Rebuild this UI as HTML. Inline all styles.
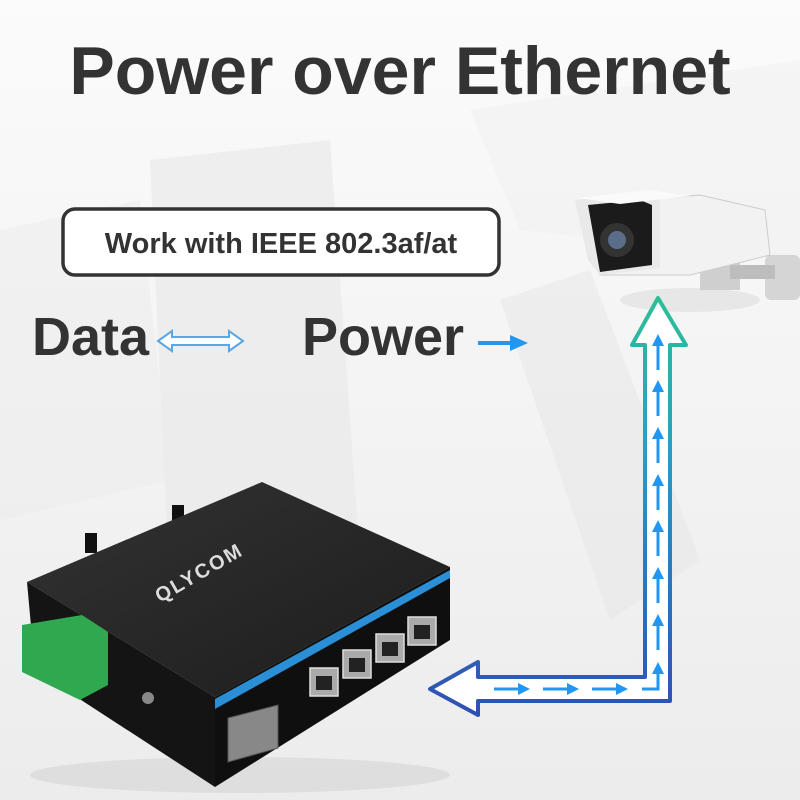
<!DOCTYPE html>
<html><head><meta charset="utf-8"><style>
html,body{margin:0;padding:0;width:800px;height:800px;overflow:hidden;background:#f3f3f3;}
svg{display:block}
text{font-family:"Liberation Sans",sans-serif;font-weight:bold;}
</style></head><body>
<svg width="800" height="800" viewBox="0 0 800 800" xmlns="http://www.w3.org/2000/svg">
<defs>
<linearGradient id="bg" x1="0" y1="0" x2="0" y2="1"><stop offset="0" stop-color="#fbfbfb"/><stop offset="1" stop-color="#ececec"/></linearGradient>
<linearGradient id="pg" x1="0" y1="0" x2="0" y2="1"><stop offset="0" stop-color="#2bbf98"/><stop offset="0.35" stop-color="#2b9fc0"/><stop offset="1" stop-color="#2f4fb3"/></linearGradient>
<linearGradient id="top" x1="0" y1="0" x2="1" y2="1"><stop offset="0" stop-color="#333"/><stop offset="1" stop-color="#1c1c1c"/></linearGradient>
<marker id="ah" viewBox="0 0 10 10" refX="5" refY="5" markerWidth="4" markerHeight="4" orient="auto"><path d="M0,0 L10,5 L0,10 z" fill="#2196f3"/></marker>
</defs>
<rect width="800" height="800" fill="url(#bg)"/>
<polygon points="150,160 330,140 360,560 170,600" fill="#e8e8e8" opacity="0.6"/>
<polygon points="0,230 140,200 170,480 0,520" fill="#ebebeb" opacity="0.5"/>
<polygon points="500,300 590,270 700,560 610,620" fill="#e6e6e6" opacity="0.5"/>
<polygon points="470,110 800,60 800,260 520,230" fill="#efefef" opacity="0.5"/>
<text x="400" y="94" text-anchor="middle" font-size="68" fill="#333">Power over Ethernet</text>
<rect x="63" y="209" width="436" height="66" rx="12" fill="#fff" stroke="#333" stroke-width="3.5"/>
<text x="281" y="253" text-anchor="middle" font-size="29" fill="#333">Work with IEEE 802.3af/at</text>
<text x="32" y="355" font-size="54" fill="#333">Data</text>
<path d="M158,341 L172,331 L172,337 L229,337 L229,331 L243,341 L229,351 L229,345 L172,345 L172,351 Z" fill="#fff" stroke="#5aa6e6" stroke-width="2"/>
<text x="302" y="355" font-size="54" fill="#333">Power</text>
<line x1="478" y1="343" x2="512" y2="343" stroke="#2196f3" stroke-width="4"/>
<polygon points="510,335 528,343 510,351" fill="#2196f3"/>
<g>
<ellipse cx="690" cy="300" rx="70" ry="12" fill="#ddd" opacity="0.6"/>
<rect x="700" y="262" width="40" height="28" fill="#cfcfcf"/>
<rect x="765" y="255" width="35" height="45" rx="6" fill="#d5d5d5"/>
<rect x="730" y="265" width="45" height="14" fill="#bdbdbd"/>
<polygon points="590,205 700,195 765,210 770,255 690,275 600,275" fill="#f2f2f2" stroke="#ccc"/>
<polygon points="575,200 640,192 660,198 660,268 600,275 588,260" fill="#e9e9e9"/>
<polygon points="588,205 640,200 652,205 652,265 600,272" fill="#1b1b1b"/>
<circle cx="617" cy="240" r="17" fill="#333"/>
<circle cx="617" cy="240" r="9" fill="#5a6e8a"/>
<polygon points="578,198 650,190 690,196 620,204" fill="#fafafa"/>
</g>
<path d="M430,689 L478,662 L478,677 L645,677 L645,345 L632,345 L658,298 L686,345 L670,345 L670,701 L478,701 L478,715 Z" fill="#fff" stroke="url(#pg)" stroke-width="4" stroke-linejoin="round"/>
<g stroke="#2196f3" stroke-width="3" fill="none">
<line x1="658" y1="370" x2="658" y2="340" marker-end="url(#ah)"/>
<line x1="658" y1="416" x2="658" y2="386" marker-end="url(#ah)"/>
<line x1="658" y1="463" x2="658" y2="433" marker-end="url(#ah)"/>
<line x1="658" y1="510" x2="658" y2="480" marker-end="url(#ah)"/>
<line x1="658" y1="556" x2="658" y2="526" marker-end="url(#ah)"/>
<line x1="658" y1="603" x2="658" y2="573" marker-end="url(#ah)"/>
<line x1="658" y1="650" x2="658" y2="620" marker-end="url(#ah)"/>
<polyline points="642,689 658,689 658,668" marker-end="url(#ah)"/>
<line x1="494" y1="689" x2="524" y2="689" marker-end="url(#ah)"/>
<line x1="543" y1="689" x2="573" y2="689" marker-end="url(#ah)"/>
<line x1="592" y1="689" x2="622" y2="689" marker-end="url(#ah)"/>
</g>
<ellipse cx="240" cy="775" rx="210" ry="18" fill="#d6d6d6" opacity="0.6"/>
<rect x="85" y="533" width="12" height="20" fill="#111"/>
<rect x="172" y="505" width="12" height="20" fill="#111"/>
<polygon points="27,582 262,482 450,567 215,697" fill="url(#top)"/>
<polygon points="27,582 215,697 215,787 35,670" fill="#141414"/>
<polygon points="215,697 450,567 450,640 215,787" fill="#0f0f0f"/>
<polygon points="215,699 450,570 450,578 215,709" fill="#2a8fd6"/>
<g fill="#aaa" stroke="#ddd" stroke-width="1.5">
<rect x="310" y="668" width="28" height="28"/>
<rect x="343" y="650" width="28" height="28"/>
<rect x="376" y="634" width="28" height="28"/>
<rect x="408" y="617" width="28" height="28"/>
</g>
<g fill="#222"><rect x="316" y="676" width="16" height="14"/><rect x="349" y="658" width="16" height="14"/><rect x="382" y="642" width="16" height="14"/><rect x="414" y="625" width="16" height="14"/></g>
<polygon points="228,718 278,705 278,748 228,762" fill="#888" stroke="#555"/>
<polygon points="22,625 82,615 108,632 108,685 80,700 22,672" fill="#2fa84f"/>
<text x="0" y="0" font-size="20" fill="#ddd" transform="translate(160,603) rotate(-30)" letter-spacing="2">QLYCOM</text>
<circle cx="148" cy="698" r="6" fill="#888"/>
</svg>
</body></html>
